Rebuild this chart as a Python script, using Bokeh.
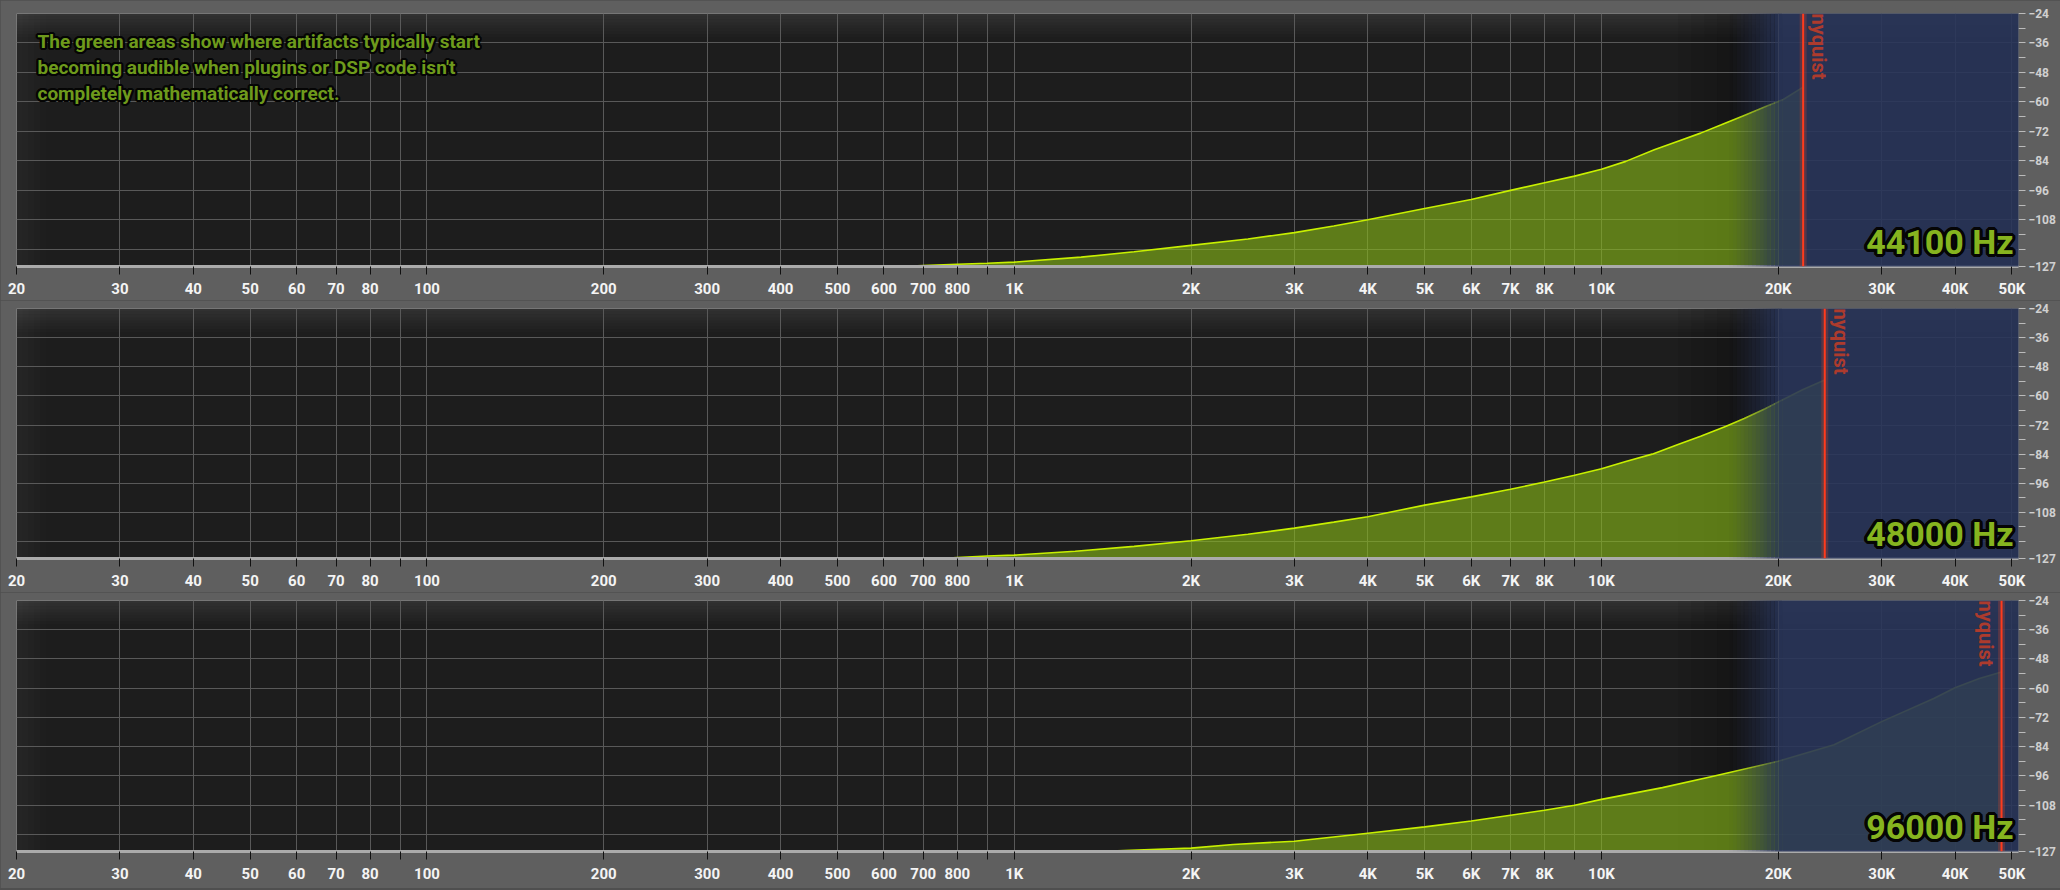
import numpy as np
from bokeh.plotting import figure
from bokeh.layouts import column
from bokeh.models import (Range1d, FixedTicker, Label, Span, BoxAnnotation, Node,
                          ColumnDataSource)
from bokeh.embed import file_html
from bokeh.resources import INLINE

# ---------------- data ----------------
freq_ticks = [20, 30, 40, 50, 60, 70, 80, 90, 100, 200, 300, 400, 500, 600, 700, 800, 900,
              1000, 2000, 3000, 4000, 5000, 6000, 7000, 8000, 9000, 10000,
              20000, 30000, 40000, 50000]
freq_labels = ["20", "30", "40", "50", "60", "70", "80", "", "100", "200", "300", "400", "500",
               "600", "700", "800", "", "1K", "2K", "3K", "4K", "5K", "6K", "7K", "8K", "",
               "10K", "20K", "30K", "40K", "50K"]
db_ticks = [-24, -36, -48, -60, -72, -84, -96, -108, -127]
db_minor = [-30, -42, -54, -66, -78, -90, -102, -114, -120]
db_grid = [-36, -48, -60, -72, -84, -96, -108, -120]

F_MIN, F_MAX = 20, 51300
DB_MIN, DB_MAX = -127, -24

rate_labels = ["44100 Hz", "48000 Hz", "96000 Hz"]
nyquist = [22050, 24000, 48000]
nyquist_side = ["right", "right", "left"]

f44 = [640, 700, 800, 900, 1000, 1300, 1600, 2000, 2500, 3000, 3500, 4000, 5000, 6000, 7000,
       8000, 9000, 10000, 11000, 12300, 13500, 14750, 16000, 17500, 19000, 20400, 22050]
db44 = [-127.0, -126.6, -126.1, -125.7, -125.2, -123.2, -121.0, -118.4, -115.8, -113.2, -110.5,
        -108.0, -103.4, -99.7, -96.0, -92.9, -90.2, -87.4, -84.2, -79.5, -76.0, -72.7, -69.3,
        -65.5, -62.0, -59.0, -54.0]

f48 = [750, 800, 900, 1000, 1270, 1600, 2000, 2500, 3000, 3500, 4000, 5000, 6000, 7000, 8000,
       9000, 10000, 11000, 12200, 13500, 14750, 16300, 17500, 19000, 20400, 22000, 24000]
db48 = [-127.0, -126.6, -126.0, -125.6, -124.0, -122.0, -119.7, -117.0, -114.5, -112.0, -109.8,
        -105.0, -101.6, -98.5, -95.5, -92.7, -90.0, -87.0, -84.0, -80.0, -76.6, -72.5, -69.3,
        -65.3, -61.5, -57.5, -53.5]

f96 = [1390, 1580, 2000, 2360, 3000, 4000, 5000, 6000, 7000, 8000, 9000, 10000, 12700, 15500,
       20000, 24900, 30000, 36800, 40000, 44000, 48000]
db96 = [-127.0, -126.5, -125.6, -124.1, -122.8, -119.5, -116.9, -114.5, -112.1, -110.1, -108.0,
        -105.6, -100.8, -96.1, -90.0, -83.2, -73.7, -64.2, -59.8, -56.0, -53.3]

intro_lines = ["The green areas show where artifacts typically start",
               "becoming audible when plugins or DSP code isn't",
               "completely mathematically correct."]

# ---------------- style ----------------
FONT = "Roboto"
BLUE = "#29355a"
BLUE_START, BLUE_FULL = 16500, 20300
SHADE_START = 13500


def outlined(p, text, x, y, xo, yo, size, color, r, align="left", baseline="alphabetic"):
    offs = set()
    for k in range(16):
        a = 2 * np.pi * k / 16
        for rr in range(1, r + 1):
            offs.add((int(round(rr * np.cos(a))), int(round(rr * np.sin(a)))))
    offs.discard((0, 0))
    for dx, dy in sorted(offs):
        p.add_layout(Label(x=x, y=y, x_offset=xo + dx, y_offset=yo + dy, text=text,
                           text_font=FONT, text_font_style="bold", text_font_size=size,
                           text_color="#050505", text_align=align, text_baseline=baseline,
                           level="annotation"))
    p.add_layout(Label(x=x, y=y, x_offset=xo, y_offset=yo, text=text,
                       text_font=FONT, text_font_style="bold", text_font_size=size,
                       text_color=color, text_align=align, text_baseline=baseline,
                       level="annotation"))


def panel(freqs, dbs, label, nyq, side, height, top_border, bottom_border, intro=False):
    p = figure(width=2060, height=height, x_axis_type="log",
               x_range=Range1d(F_MIN, F_MAX), y_range=Range1d(DB_MIN, DB_MAX),
               y_axis_location="right", output_backend="svg", toolbar_location=None,
               min_border_left=16, min_border_right=42, min_border_top=top_border,
               min_border_bottom=bottom_border,
               background_fill_color="#1d1d1d", border_fill_color="#5f5f5f",
               outline_line_color="#747474", outline_line_width=1)

    # axes
    xa = p.xaxis[0]
    xa.ticker = FixedTicker(ticks=freq_ticks, minor_ticks=[])
    xa.major_label_overrides = {float(t): l for t, l in zip(freq_ticks, freq_labels)}
    xa.major_label_text_color = "#f4f4f4"
    xa.major_label_text_font = FONT
    xa.major_label_text_font_style = "bold"
    xa.major_label_text_font_size = "15px"
    xa.major_label_standoff = 5
    xa.major_tick_out = 8
    xa.major_tick_in = 0
    xa.major_tick_line_color = "#111111"
    xa.minor_tick_line_color = None
    xa.axis_line_color = "#ababab"
    xa.axis_line_width = 3

    ya = p.yaxis[0]
    ya.ticker = FixedTicker(ticks=db_ticks, minor_ticks=db_minor)
    ya.major_label_text_color = "#d0d0d0"
    ya.major_label_text_font = FONT
    ya.major_label_text_font_style = "bold"
    ya.major_label_text_font_size = "12px"
    ya.major_label_standoff = 3
    ya.major_tick_out = 7
    ya.major_tick_in = 0
    ya.minor_tick_out = 7
    ya.minor_tick_in = 0
    ya.major_tick_line_color = "#bbbbbb"
    ya.minor_tick_line_color = "#bbbbbb"
    ya.axis_line_color = None

    p.xgrid.ticker = FixedTicker(ticks=freq_ticks)
    p.ygrid.ticker = FixedTicker(ticks=db_grid)
    p.grid.grid_line_color = "#595959"
    p.grid.grid_line_width = 1

    # dark separator at the bottom of the panel
    p.add_layout(BoxAnnotation(left=Node(target="canvas", symbol="left"),
                               right=Node(target="canvas", symbol="right"),
                               top=Node(target="canvas", symbol="bottom", offset=-3),
                               bottom=Node(target="canvas", symbol="bottom"),
                               fill_color="#2a2a2a", fill_alpha=1.0, line_color=None,
                               level="image"))

    # background shading (frame top glow, left vignette, shadow before blue area)
    for i in range(8):
        p.add_layout(BoxAnnotation(top=Node(target="frame", symbol="top", offset=3 * i),
                                   bottom=Node(target="frame", symbol="top", offset=3 * i + 3),
                                   fill_color="white", fill_alpha=0.09 * (1 - i / 8),
                                   line_color=None, level="image"))
    for i in range(5):
        p.add_layout(BoxAnnotation(left=Node(target="frame", symbol="left", offset=6 * i),
                                   right=Node(target="frame", symbol="left", offset=6 * i + 6),
                                   fill_color="white", fill_alpha=0.04 * (1 - i / 5),
                                   line_color=None, level="image"))
    n_sh = 8
    sh = np.geomspace(SHADE_START, BLUE_FULL, n_sh + 1)
    for i in range(n_sh):
        p.add_layout(BoxAnnotation(left=sh[i], right=sh[i + 1],
                                   fill_color="black", fill_alpha=0.45 * (i + 1) / n_sh,
                                   line_color=None, level="image"))

    # the artifact area
    src = ColumnDataSource(dict(f=freqs, db=dbs))
    p.varea(x="f", y1=DB_MIN, y2="db", source=src, fill_color="#8bbd18", fill_alpha=0.6)
    p.line(x="f", y="db", source=src, line_color="#c8f000", line_width=1.6)

    # blue region beyond the audible range
    n_bl = 14
    bl = np.geomspace(BLUE_START, BLUE_FULL, n_bl + 1)
    for i in range(n_bl):
        p.add_layout(BoxAnnotation(left=bl[i], right=bl[i + 1],
                                   top=Node(target="canvas", symbol="top"),
                                   bottom=Node(target="canvas", symbol="bottom"),
                                   fill_color=BLUE, fill_alpha=0.9 * ((i + 1) / n_bl) ** 1.3,
                                   line_color=None, level="annotation"))
    p.add_layout(BoxAnnotation(left=BLUE_FULL, right=Node(target="canvas", symbol="right"),
                               top=Node(target="canvas", symbol="top"),
                               bottom=Node(target="canvas", symbol="bottom"),
                               fill_color=BLUE, fill_alpha=0.9, line_color=None,
                               level="annotation"))

    # nyquist marker
    p.add_layout(Span(location=nyq, dimension="height", line_color="#ff4a26", line_width=7,
                      line_alpha=0.22, level="annotation"))
    p.add_layout(Span(location=nyq, dimension="height", line_color="#ff3b1c", line_width=2,
                      level="annotation"))
    if side == "right":
        nx_off, nbase = 4, "bottom"
    else:
        nx_off, nbase = -4, "top"
    p.add_layout(Label(x=nyq, y=DB_MAX, x_offset=nx_off, y_offset=0, text="nyquist",
                       angle=-np.pi / 2, text_align="left", text_baseline=nbase,
                       text_font=FONT, text_font_style="bold", text_font_size="20px",
                       text_color="#ad3b2d", level="annotation"))

    # sample-rate label (kept inside the plot frame)
    outlined(p, label, F_MAX, DB_MIN, -5, 25, "34px", "#86b41f", 3, align="right")

    if intro:
        for k, line in enumerate(intro_lines):
            outlined(p, line, F_MIN, DB_MAX, 21, -28 - 26 * k, "19px", "#6e9a1c", 2)
    return p


p1 = panel(f44, db44, rate_labels[0], nyquist[0], nyquist_side[0], 300, 13, 33, intro=True)
p2 = panel(f48, db48, rate_labels[1], nyquist[1], nyquist_side[1], 292, 8, 34)
p3 = panel(f96, db96, rate_labels[2], nyquist[2], nyquist_side[2], 296, 8, 37)

layout = column(p1, p2, p3, spacing=0)

html = file_html(layout, INLINE, title="Artifact audibility by sample rate")
html = html.replace("</head>",
                    "<style>html,body{overflow:hidden;background:#4f4f4f;}</style></head>", 1)
open("out.html", "w").write(html)
